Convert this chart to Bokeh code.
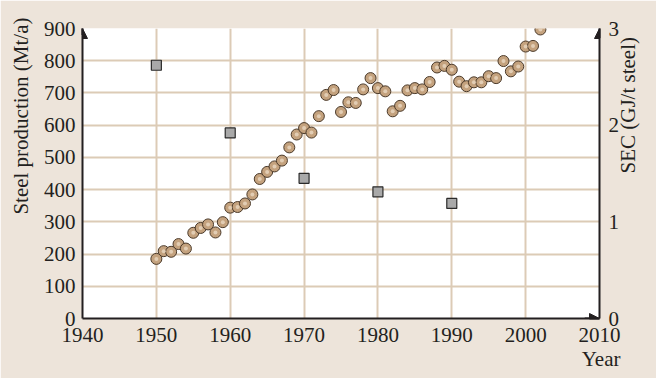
import math
from bokeh.plotting import figure
from bokeh.models import (Range1d, LinearAxis, FixedTicker, Arrow, NormalHead, Title)
from bokeh.embed import file_html
from bokeh.resources import INLINE

# ---- data ----
prod_years = list(range(1950, 2003))
production = [185, 209, 207, 231, 217, 266, 281, 292, 267, 299,
              344, 346, 357, 385, 433, 455, 472, 490, 531, 571,
              591, 577, 628, 694, 709, 641, 671, 669, 711, 746,
              715, 705, 643, 660, 708, 715, 711, 734, 779, 784,
              772, 735, 721, 733, 733, 752, 746, 799, 767, 782,
              844, 846, 897]
sec_years = [1950, 1960, 1970, 1980, 1990]
sec_values = [2.62, 1.92, 1.45, 1.31, 1.19]
x_ticks = [1940, 1950, 1960, 1970, 1980, 1990, 2000, 2010]
y_ticks = [0, 100, 200, 300, 400, 500, 600, 700, 800, 900]
sec_ticks = [0, 1, 2, 3]

BG = "#ede4da"
GRID = "#dccbb6"
DARK = "#231f20"
FONT = "Liberation Serif"
FS = "21px"

p = figure(width=656, height=378, output_backend="svg", toolbar_location=None,
           x_range=Range1d(1940, 2010), y_range=Range1d(0, 900),
           min_border_left=79, min_border_right=57, min_border_top=28, min_border_bottom=60)
p.border_fill_color = BG
p.background_fill_color = "white"
p.outline_line_color = None
p.extra_y_ranges = {"sec": Range1d(0, 3)}

# axes
p.xaxis.ticker = FixedTicker(ticks=x_ticks)
p.yaxis.ticker = FixedTicker(ticks=y_ticks)
right = LinearAxis(y_range_name="sec", ticker=FixedTicker(ticks=sec_ticks),
                   axis_label="SEC (GJ/t steel)")
p.add_layout(right, "right")

for ax in [p.xaxis[0], p.yaxis[0], right]:
    ax.major_tick_line_color = None
    ax.minor_tick_line_color = None
    ax.major_tick_in = 0
    ax.major_tick_out = 0
    ax.minor_tick_in = 0
    ax.minor_tick_out = 0
    ax.axis_line_color = DARK
    ax.axis_line_width = 2
    ax.major_label_text_font = FONT
    ax.major_label_text_font_size = FS
    ax.major_label_text_color = DARK
    ax.axis_label_text_font = FONT
    ax.axis_label_text_font_size = FS
    ax.axis_label_text_font_style = "normal"
    ax.axis_label_text_color = DARK
p.xaxis.major_label_standoff = 9
p.yaxis.major_label_standoff = 7
right.major_label_standoff = 9
right.axis_label_standoff = 6
right.axis_label_orientation = math.pi / 2

# left axis title, aligned to the top of the axis
p.add_layout(Title(text="Steel production (Mt/a)", align="right", offset=-11,
                   vertical_align="middle", standoff=14,
                   text_font=FONT, text_font_size=FS, text_font_style="normal",
                   text_color=DARK), "left")

p.xgrid.ticker = FixedTicker(ticks=x_ticks)
p.ygrid.ticker = FixedTicker(ticks=y_ticks)
p.grid.grid_line_color = GRID
p.grid.grid_line_width = 2

# arrow heads
p.add_layout(Arrow(x_start=1940, y_start=880, x_end=1940, y_end=900,
                   line_color=DARK, line_width=2,
                   end=NormalHead(size=10, fill_color=DARK, line_color=DARK)))
p.add_layout(Arrow(x_start=2008, y_start=0, x_end=2010, y_end=0,
                   line_color=DARK, line_width=2,
                   end=NormalHead(size=10, fill_color=DARK, line_color=DARK)))
p.add_layout(Arrow(x_start=2010, y_start=2.9, x_end=2010, y_end=3, y_range_name="sec",
                   line_color=DARK, line_width=2,
                   end=NormalHead(size=10, fill_color=DARK, line_color=DARK)))

# data
p.scatter(sec_years, sec_values, y_range_name="sec", marker="square", size=10,
          fill_color="#a9a9a9", line_color="#2a2a2a", line_width=1.2)
p.scatter(prod_years, production, marker="circle", size=11,
          fill_color="#c4a27e", line_color="#4b3a2a", line_width=1)
p.scatter(prod_years, production, marker="circle", size=4,
          fill_color="#ead8c2", line_color=None, fill_alpha=0.8)

p.add_layout(Title(text="Year", align="right", offset=-21, standoff=0,
                   text_font=FONT, text_font_size=FS, text_font_style="normal",
                   text_color=DARK), "below")

open("out.html", "w").write(file_html(p, INLINE))
